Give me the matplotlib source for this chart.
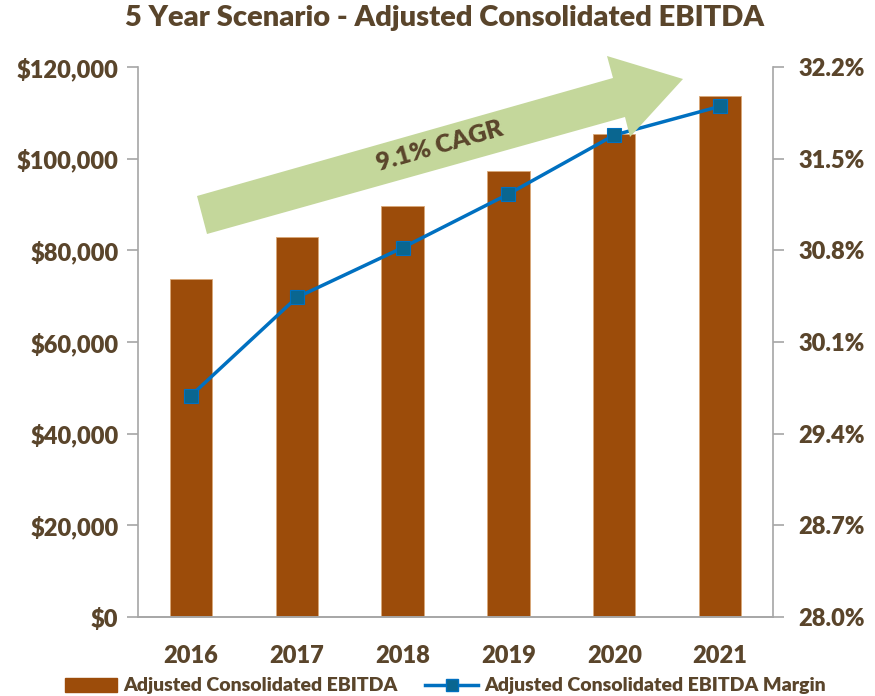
import matplotlib.pyplot as plt
import matplotlib.ticker as mticker
from matplotlib.patches import Polygon
from matplotlib.lines import Line2D
from matplotlib.patches import Patch

years = ["2016", "2017", "2018", "2019", "2020", "2021"]
ebitda = [73700, 82900, 89700, 97300, 105400, 113700]
margin = [29.69, 30.44, 30.82, 31.23, 31.68, 31.90]
cagr_label = "9.1% CAGR"

txt = "#5a452b"
bar_col = "#9c4c0a"
line_col = "#0070c0"
mark_col = "#0a6690"
axis_col = "#a6a6a6"

plt.rcParams['font.family'] = ['Lato', 'DejaVu Sans']
plt.rcParams['font.weight'] = 'heavy'

fig = plt.figure(figsize=(8.75, 6.96), dpi=100)
ax = fig.add_axes([138/875, 1-617/696, 635/875, 550/696])
x = range(len(years))
ax.bar(x, ebitda, width=0.40, color=bar_col, edgecolor="#d9a877", linewidth=0.6, zorder=2)
ax.set_xlim(-0.5, len(years)-0.5)
ax.set_ylim(0, 120000)
ax.set_yticks(range(0, 120001, 20000))
ax.yaxis.set_major_formatter(mticker.FuncFormatter(lambda v, p: "${:,.0f}".format(v)))
ax.set_xticks(list(x))
ax.set_xticklabels(years)

ax2 = ax.twinx()
ax2.plot(list(x), margin, color=line_col, linewidth=2.5, marker='s', markersize=10,
         markerfacecolor=mark_col, markeredgecolor=line_col, markeredgewidth=0.8, zorder=3)
ax2.set_ylim(28.0, 32.2)
ax2.set_yticks([28.0, 28.7, 29.4, 30.1, 30.8, 31.5, 32.2])
ax2.yaxis.set_major_formatter(mticker.FuncFormatter(lambda v, p: "{:.1f}%".format(v)))

for a in (ax, ax2):
    a.spines['top'].set_visible(False)
    for s in ('left', 'right', 'bottom'):
        a.spines[s].set_color(axis_col)
        a.spines[s].set_linewidth(1.2)
    a.tick_params(axis='both', colors=axis_col, labelcolor=txt, labelsize=17, length=8, width=1.2)
ax.spines['right'].set_visible(False)
ax2.spines['left'].set_visible(False)
ax.tick_params(axis='x', length=0, pad=20, labelsize=17)
ax.tick_params(axis='y', pad=6)
ax2.tick_params(axis='y', pad=10)

# growth arrow (pixel outline converted to figure fraction)
pts = [(197, 196), (613, 78), (607, 56), (683, 79), (630, 137), (625, 117), (207, 234)]
arrow = Polygon([(px/875, 1-py/696) for px, py in pts], closed=True,
                transform=fig.transFigure, facecolor="#c4d79b", edgecolor="none", zorder=5)
fig.patches.append(arrow)
fig.text(440/875, 1-146/696, cagr_label, rotation=16, ha='center', va='center',
         fontsize=18, color=txt, zorder=6)

fig.text(445/875, 1-18/696, "5 Year Scenario - Adjusted Consolidated EBITDA",
         ha='center', va='center', fontsize=21, color=txt)

handles = [Patch(facecolor=bar_col, edgecolor=bar_col),
           Line2D([0], [0], color=line_col, linewidth=2.5, marker='s', markersize=9,
                  markerfacecolor=mark_col, markeredgecolor=line_col)]
fig.legend(handles, ["Adjusted Consolidated EBITDA", "Adjusted Consolidated EBITDA Margin"],
           loc='center', bbox_to_anchor=(445/875, 1-686/696), ncol=2, frameon=False,
           fontsize=14, labelcolor=txt, handlelength=2.7, handletextpad=0.3, columnspacing=1.45)

fig.savefig("out.png", dpi=100)
